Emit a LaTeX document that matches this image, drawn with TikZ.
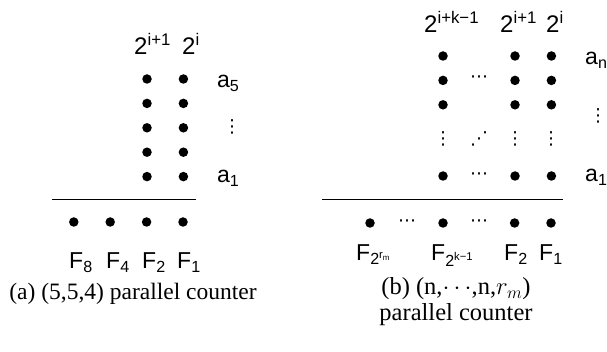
\documentclass[tikz,border=0pt]{standalone}
\usepackage{fontspec}
\setmainfont{Liberation Serif}
\setsansfont{Liberation Sans}
\newfontfamily\dotfont{DejaVu Sans}
\usetikzlibrary{positioning}

\begin{document}
\begin{tikzpicture}[
  x=1pt,y=-1pt,
  node distance=14.5pt and 26.5pt,
  dot/.style={circle,fill=black,inner sep=0pt,minimum size=9.5pt},
  lbl/.style={font=\sffamily\fontsize{23}{27}\selectfont,inner sep=0pt,
              anchor=base west},
  hdr/.style={font=\sffamily\fontsize{24}{28}\selectfont,inner sep=0pt,
              anchor=base west},
  gap/.style={font=\dotfont\fontsize{18}{20}\selectfont,inner sep=0pt},
  capt/.style={font=\fontsize{23.5}{27}\selectfont,align=center,inner sep=0pt}
]
\useasboundingbox (0,0) rectangle (607,352);

% (a) left counter
\node[dot] (La5) at (147,79) {};
\node[dot,below=of La5] (La4) {};
\node[dot,below=of La4] (La3) {};
\node[dot,below=of La3] (La2) {};
\node[dot,below=of La2] (La1) {};
\node[dot,right=of La5] (Lb5) {};
\node[dot,right=of La4] (Lb4) {};
\node[dot,right=of La3] (Lb3) {};
\node[dot,right=of La2] (Lb2) {};
\node[dot,right=of La1] (Lb1) {};

\node[hdr] (Lh1) at (134,55) {2\textsuperscript{i+1}};
\node[hdr] (Lh0) at (182,55) {2\textsuperscript{i}};

\node[lbl] (La5t) at (217,88) {a\textsubscript{5}};
\node[gap] (Lvd) at (232,127) {⋮};
\node[lbl] (La1t) at (217,183) {a\textsubscript{1}};

\coordinate (Ls) at (52,199);
\coordinate (Le) at (196,199);
\draw[line width=0.9pt] (Ls) -- (Le);

\node[dot] (LF1) at (183,222) {};
\node[dot,left=of LF1] (LF2) {};
\node[dot,left=of LF2] (LF4) {};
\node[dot,left=of LF4] (LF8) {};

\node[lbl] (LF8t) at (69,269)  {F\textsubscript{8}};
\node[lbl] (LF4t) at (106,269) {F\textsubscript{4}};
\node[lbl] (LF2t) at (142,269) {F\textsubscript{2}};
\node[lbl] (LF1t) at (177,269) {F\textsubscript{1}};

\node[capt] (Lcap) at (133,294) {(a) (5,5,4) parallel counter};

% (b) right counter
\node[dot] (RcT1) at (443,56) {};
\node[dot,below=of RcT1] (RcT2) {};
\node[dot,below=of RcT2] (RcT3) {};
\node[dot] (RcB) at (443,176) {};
\node[dot] (RaT1) at (515,56) {};
\node[dot,below=of RaT1] (RaT2) {};
\node[dot,below=of RaT2] (RaT3) {};
\node[dot] (RaB) at (515,176) {};
\node[dot,right=of RaT1] (RbT1) {};
\node[dot,right=of RaT2] (RbT2) {};
\node[dot,right=of RaT3] (RbT3) {};
\node[dot,right=of RaB] (RbB) {};

\node[gap] (RgT2) at (479,79) {⋯};
\node[gap] (RgB) at (479,176) {⋯};
\node[gap] (Rvc) at (443,139) {⋮};
\node[gap] (Rva) at (515,139) {⋮};
\node[gap] (Rvb) at (551,139) {⋮};
\node[gap] (Rud) at (479,139) {⋰};

\node[hdr] (Rhk) at (424,33) {2\textsuperscript{i+k−1}};
\node[hdr] (Rh1) at (500,33) {2\textsuperscript{i+1}};
\node[hdr] (Rh0) at (546,33) {2\textsuperscript{i}};

\node[lbl] (Rant) at (585,65) {a\textsubscript{n}};
\node[gap] (Rvd) at (598,116) {⋮};
\node[lbl] (Ra1t) at (585,182) {a\textsubscript{1}};

\coordinate (Rs) at (322,199);
\coordinate (Re) at (563,199);
\draw[line width=0.9pt] (Rs) -- (Re);

\node[dot] (RF1) at (551,223) {};
\node[dot,left=of RF1] (RF2) {};
\node[dot] (RFk) at (443,223) {};
\node[dot] (RFr) at (370,223) {};
\node[gap] (RgF1) at (407,223) {⋯};
\node[gap] (RgF2) at (479,223) {⋯};

\node[lbl] (RFrt) at (356,261) {F\textsubscript{2\textsuperscript{r\textsubscript{m}}}};
\node[lbl] (RFkt) at (431,261) {F\textsubscript{2\textsuperscript{k−1}}};
\node[lbl] (RF2t) at (504,261) {F\textsubscript{2}};
\node[lbl] (RF1t) at (539,261) {F\textsubscript{1}};

\node[capt,font=\fontsize{24.5}{26}\selectfont] (Rcap) at (456,302)
  {(b) (n,$\cdots$,n,$r_m$)\\parallel counter};
\end{tikzpicture}
\end{document}
